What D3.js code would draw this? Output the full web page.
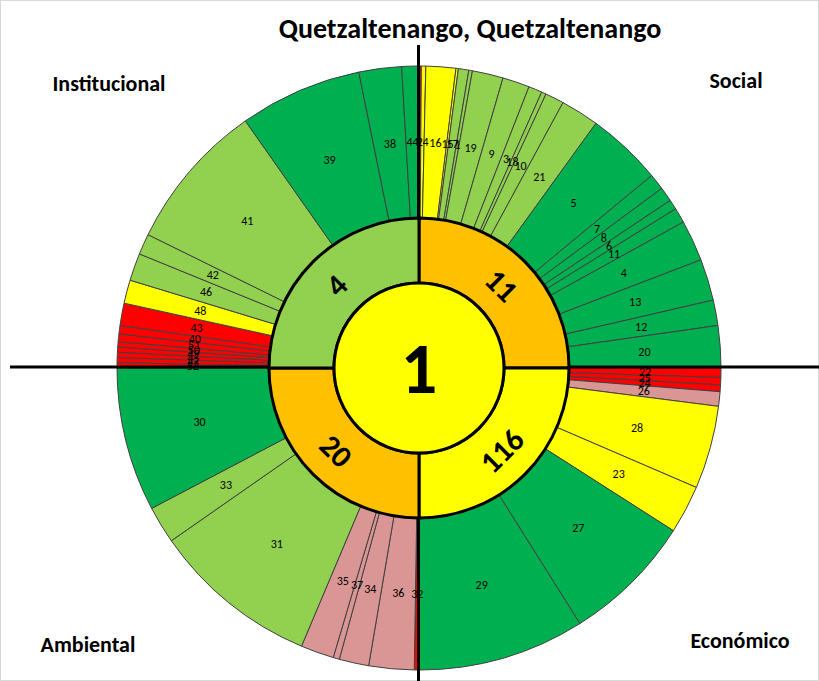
<!DOCTYPE html>
<html>
<head>
<meta charset="utf-8">
<script src="https://cdn.jsdelivr.net/npm/d3@7"></script>
<style>
  html, body { margin: 0; padding: 0; background: #fff; }
  svg { display: block; }
</style>
</head>
<body>
<svg id="chart" width="819" height="681"></svg>
<script>
// ---- data ----
const chartTitle = "Quetzaltenango, Quetzaltenango";
const categories = ["Social", "Económico", "Ambiental", "Institucional"];
const categoryValues = [11, 116, 20, 4];
const categoryStatus = ["naranja", "amarillo", "naranja", "verdeClaro"];
const centerValue = 1;

const indicatorIds = [
  2, 14, 16, 15, 17, 1, 19, 9, 3, 18, 10, 21, 5, 7, 8, 6, 11, 4, 13, 12, 20,
  22, 25, 24, 26, 28, 23, 27, 29,
  32, 36, 34, 37, 35, 31, 33, 30,
  52, 47, 45, 49, 50, 51, 40, 43, 48, 46, 42, 41, 39, 38, 44
];
const indicatorValues = [
  0.45, 0.85, 5.74, 0.46, 2.0, 0.7, 5.95, 5.21, 2.61, 0.9, 3.61, 7.4, 14.52, 3.1, 2.8, 1.9, 2.9, 7.9, 8.0, 4.9, 8.1,
  1.8, 1.4, 1.3, 2.8, 16.0, 9.3, 25.2, 32.2,
  0.9, 8.7, 5.7, 1.2, 6.4, 32.2, 7.2, 27.7,
  1.0, 1.0, 1.0, 1.0, 1.0, 1.5, 1.6, 4.3, 4.5, 5.3, 4.0, 28.7, 23.6, 8.2, 3.3
];
const indicatorStatus = [
  "rojo", "amarillo", "amarillo", "amarillo", "verdeClaro", "verdeClaro", "verdeClaro", "verdeClaro", "verdeClaro", "verdeClaro", "verdeClaro", "verdeClaro",
  "verde", "verde", "verde", "verde", "verde", "verde", "verde", "verde", "verde",
  "rojo", "rojo", "rojo", "rosa", "amarillo", "amarillo", "verde", "verde",
  "rojo", "rosa", "rosa", "rosa", "rosa", "verdeClaro", "verdeClaro", "verde",
  "rojo", "rojo", "rojo", "rojo", "rojo", "rojo", "rojo", "rojo", "amarillo", "verdeClaro", "verdeClaro", "verdeClaro", "verde", "verde", "verde"
];

const statusColors = {
  rojo: "#FF0000",
  rosa: "#DA9694",
  amarillo: "#FFFF00",
  verdeClaro: "#92D050",
  verde: "#00B050",
  naranja: "#FFC000"
};

// ---- layout ----
const W = 819, H = 681;
const cx = 419, cy = 368;
const rOuter = 302, rRing = 150, rCenter = 85, rLabel = 226, rCatLabel = 117;
const font = "Carlito, Calibri, Lato, 'Open Sans', sans-serif";

const svg = d3.select("#chart");
svg.append("rect").attr("x", 0.5).attr("y", 0.5).attr("width", W - 1).attr("height", H - 1)
  .attr("fill", "#fff").attr("stroke", "#d9d9d9");

const g = svg.append("g").attr("transform", `translate(${cx},${cy})`);

// outer pie
const outerData = indicatorIds.map((id, i) => ({ id, value: indicatorValues[i], status: indicatorStatus[i] }));
const pie = d3.pie().sort(null).value(d => d.value).startAngle(0).endAngle(2 * Math.PI);
const outerArcs = pie(outerData);
const arcOuter = d3.arc().innerRadius(0).outerRadius(rOuter);
const arcLbl = d3.arc().innerRadius(rLabel).outerRadius(rLabel);

g.append("g").selectAll("path").data(outerArcs).join("path")
  .attr("d", arcOuter)
  .attr("fill", d => statusColors[d.data.status])
  .attr("stroke", "#404040")
  .attr("stroke-width", 1);

g.append("g").selectAll("text").data(outerArcs).join("text")
  .attr("transform", d => `translate(${arcLbl.centroid(d)})`)
  .attr("text-anchor", "middle")
  .attr("dominant-baseline", "central")
  .attr("font-family", font)
  .attr("font-size", 12)
  .attr("fill", "#000")
  .text(d => d.data.id);

// crosshair (drawn beneath the inner rings)
svg.append("line").attr("x1", 10).attr("x2", W).attr("y1", cy - 1).attr("y2", cy - 1)
  .attr("stroke", "#000").attr("stroke-width", 3);
svg.append("line").attr("x1", cx - 0.5).attr("x2", cx - 0.5).attr("y1", 45).attr("y2", H)
  .attr("stroke", "#000").attr("stroke-width", 3);

const g2 = svg.append("g").attr("transform", `translate(${cx},${cy})`);

// inner ring
const catData = categories.map((c, i) => ({ c, value: 1, count: categoryValues[i], status: categoryStatus[i] }));
const catArcs = d3.pie().sort(null).value(d => d.value).startAngle(0).endAngle(2 * Math.PI)(catData);
const arcRing = d3.arc().innerRadius(rCenter).outerRadius(rRing);
const arcCat = d3.arc().innerRadius(rCatLabel).outerRadius(rCatLabel);

g2.append("g").selectAll("path").data(catArcs).join("path")
  .attr("d", arcRing)
  .attr("fill", d => statusColors[d.data.status])
  .attr("stroke", "#000")
  .attr("stroke-width", 3);

g2.append("g").selectAll("text").data(catArcs).join("text")
  .attr("transform", d => {
    const [x, y] = arcCat.centroid(d);
    let a = (d.startAngle + d.endAngle) / 2 * 180 / Math.PI;
    if (a > 90 && a <= 270) a -= 180;
    else if (a > 270) a -= 360;
    return `translate(${x},${y}) rotate(${a})`;
  })
  .attr("text-anchor", "middle")
  .attr("dominant-baseline", "central")
  .attr("font-family", font)
  .attr("font-weight", "bold")
  .attr("font-size", 31)
  .attr("fill", "#000")
  .text(d => d.data.count);

// center
g2.append("circle").attr("r", rCenter).attr("fill", statusColors.amarillo)
  .attr("stroke", "#000").attr("stroke-width", 3);
g2.append("text")
  .attr("text-anchor", "middle")
  .attr("dominant-baseline", "central")
  .attr("font-family", font)
  .attr("font-weight", "bold")
  .attr("font-size", 72)
  .attr("fill", "#000")
  .text(centerValue);

// title
svg.append("text").attr("x", 470).attr("y", 38)
  .attr("text-anchor", "middle")
  .attr("font-family", font).attr("font-weight", "bold").attr("font-size", 28)
  .attr("fill", "#000").text(chartTitle);

// corner category labels
const cornerPos = [
  { x: 736, y: 88 },
  { x: 740, y: 648 },
  { x: 88, y: 652 },
  { x: 109, y: 91 }
];
svg.append("g").selectAll("text").data(categories).join("text")
  .attr("x", (d, i) => cornerPos[i].x)
  .attr("y", (d, i) => cornerPos[i].y)
  .attr("text-anchor", "middle")
  .attr("font-family", font).attr("font-weight", "bold").attr("font-size", 22)
  .attr("fill", "#000")
  .text(d => d);
</script>
</body>
</html>
